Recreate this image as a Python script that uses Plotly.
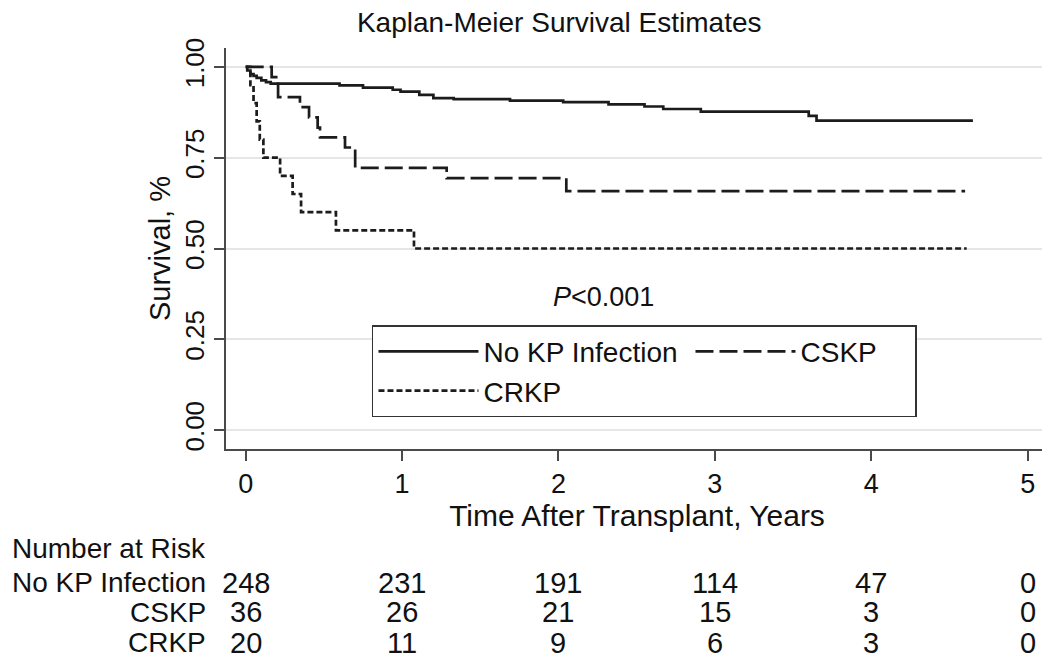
import plotly.graph_objects as go

# ---- data ----
nokp_t = [0, 0.01, 0.03, 0.05, 0.07, 0.10, 0.13, 0.16, 0.60, 0.75, 0.94, 0.99, 1.11, 1.20, 1.33,
          1.69, 2.03, 2.32, 2.55, 2.67, 2.91, 3.60, 3.65, 4.65]
nokp_s = [1.0, 0.99, 0.98, 0.975, 0.97, 0.963, 0.958, 0.954, 0.949, 0.943, 0.937, 0.932, 0.923,
          0.914, 0.911, 0.907, 0.903, 0.897, 0.891, 0.884, 0.877, 0.865, 0.852, 0.852]

cskp_t = [0, 0.166, 0.207, 0.347, 0.405, 0.46, 0.475, 0.635, 0.70, 1.285, 2.05, 4.60]
cskp_s = [1.0, 0.972, 0.917, 0.889, 0.861, 0.833, 0.806, 0.778, 0.722, 0.694, 0.658, 0.658]

crkp_t = [0, 0.03, 0.05, 0.07, 0.09, 0.113, 0.22, 0.30, 0.354, 0.577, 1.076, 4.61]
crkp_s = [1.0, 0.95, 0.90, 0.85, 0.80, 0.75, 0.70, 0.65, 0.60, 0.55, 0.50, 0.50]

group_names = ["No KP Infection", "CSKP", "CRKP"]
risk_times = [0, 1, 2, 3, 4, 5]
risk_nokp = [248, 231, 191, 114, 47, 0]
risk_cskp = [36, 26, 21, 15, 3, 0]
risk_crkp = [20, 11, 9, 6, 3, 0]

y_ticks = [0, 0.25, 0.5, 0.75, 1.0]
y_tick_text = ["0.00", "0.25", "0.50", "0.75", "1.00"]
x_ticks = [0, 1, 2, 3, 4, 5]

FONT = "Liberation Sans, Arial, Helvetica, sans-serif"
LINE = "#1c1c1c"
AX = "#4a4a4a"
TXT = "#111"

fig = go.Figure()
series = [
    (nokp_t, nokp_s, "solid", 202),
    (cskp_t, cskp_s, "18px,6px", 110),
    (crkp_t, crkp_s, "6px,3px", 202),
]
for name, (t, s, dash, lw) in zip(group_names, series):
    fig.add_trace(go.Scatter(
        x=t, y=s, mode="lines", name=name, line_shape="hv",
        line=dict(color=LINE, width=2.7, dash=dash),
        legendwidth=lw, hoverinfo="skip",
    ))

# P value annotation
fig.add_annotation(x=2.29, y=0.366, xref="x", yref="y", text="<i>P</i>&lt;0.001",
                   showarrow=False, font=dict(size=27, color=TXT, family=FONT))

# risk table
fig.add_annotation(x=-0.2628, y=-0.247, xref="paper", yref="paper", text="Number at Risk",
                   showarrow=False, xanchor="left", yanchor="middle",
                   font=dict(size=28, color=TXT, family=FONT))
rows_y = [-0.334, -0.407, -0.483]
for name, vals, yy in zip(group_names, [risk_nokp, risk_cskp, risk_crkp], rows_y):
    fig.add_annotation(x=-0.022, y=yy, xref="paper", yref="paper", text=name,
                       showarrow=False, xanchor="right", yanchor="middle",
                       font=dict(size=28, color=TXT, family=FONT))
    for t, v in zip(risk_times, vals):
        fig.add_annotation(x=t, y=yy, xref="x", yref="paper", text=str(v),
                           showarrow=False, xanchor="center", yanchor="middle",
                           font=dict(size=29, color=TXT, family=FONT))

# page body has an 8px margin, so the figure is 8px smaller and margins shifted
fig.update_layout(
    width=1042, height=660,
    margin=dict(l=218, r=2, t=40, b=219, autoexpand=False),
    paper_bgcolor="white", plot_bgcolor="white",
    font=dict(family=FONT, color=TXT),
    title=dict(text="Kaplan-Meier Survival Estimates", x=0.529, xanchor="center",
               y=0.979, yanchor="middle", yref="container",
               font=dict(size=28, family=FONT, color=TXT)),
    showlegend=True,
    legend=dict(orientation="h", x=0.1776, xanchor="left", y=0.309, yanchor="top",
                bordercolor="#333", borderwidth=1.5, bgcolor="white",
                itemwidth=100, font=dict(size=28, family=FONT, color=TXT),
                itemclick=False, itemdoubleclick=False),
)
fig.update_xaxes(
    range=[-0.126, 5.13], tickvals=x_ticks, ticks="outside", ticklen=10, tickwidth=2,
    tickcolor=AX, showline=True, linecolor=AX, linewidth=2, showgrid=False, zeroline=False,
    tickfont=dict(size=27, family=FONT, color=TXT),
    title=dict(text="Time After Transplant, Years", standoff=2,
               font=dict(size=30, family=FONT, color=TXT)),
)
fig.update_yaxes(
    range=[-0.052, 1.052], tickvals=y_ticks, ticktext=y_tick_text, tickangle=-90,
    ticks="outside", ticklen=10, tickwidth=2, tickcolor=AX, showline=True, linecolor=AX,
    linewidth=2, showgrid=True, gridcolor="#e6e6e6", gridwidth=1.5, zeroline=False,
    tickfont=dict(size=26, family=FONT, color=TXT),
    title=dict(text="Survival, %", standoff=0, font=dict(size=29, family=FONT, color=TXT)),
)

fig.write_html("out.html")
